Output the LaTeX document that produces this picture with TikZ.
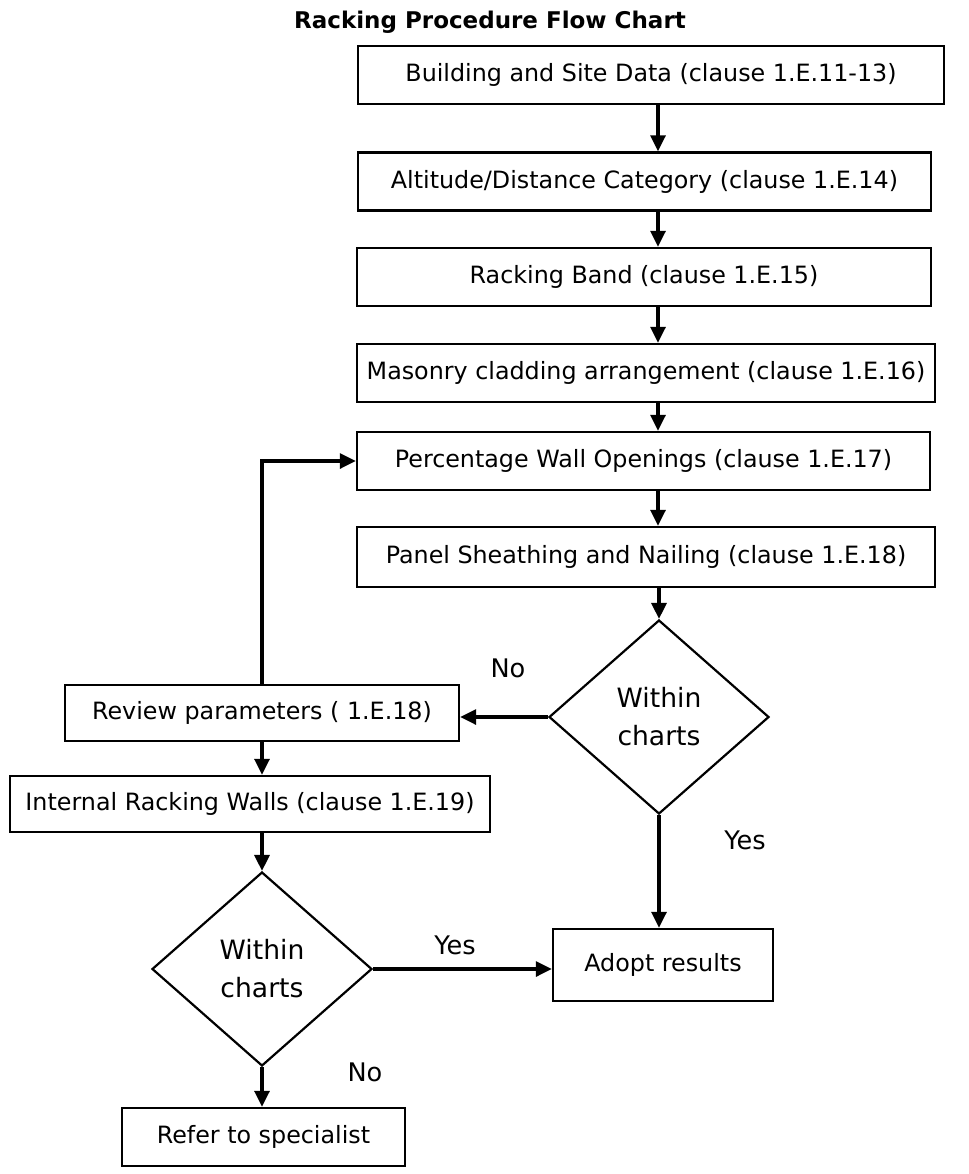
\documentclass[tikz,border=0pt]{standalone}
\usepackage{fontspec}
\setmainfont{DejaVu Sans}
\usetikzlibrary{arrows.meta, positioning, calc, shapes}

\begin{document}
\begin{tikzpicture}[x=0.5pt, y=-0.5pt, >={Triangle[length=8pt, width=7.5pt]},
            box/.style={draw, rectangle, line width=1.2pt, minimum height=29pt, inner sep=0pt, font=\fontsize{11.9}{14}\selectfont},
            choice/.style={draw, diamond, line width=1.1pt, inner sep=0pt, minimum width=110pt, minimum height=97pt, align=center, font=\fontsize{13.3}{19}\selectfont},
            lbl/.style={font=\fontsize{12.8}{15}\selectfont},
            link/.style={->, line width=1.6pt}]

            \useasboundingbox (0,0) rectangle (969,1174);

            \node[font=\bfseries\fontsize{11.5}{14}\selectfont] (title) at (490,22) {Racking Procedure Flow Chart};

            % ===== main column =====
            \node[box, minimum width=293pt] (site) at (651,75) {Building and Site Data (clause 1.E.11-13)};
            \node[box, minimum width=286.5pt] (alt) at (644.5,181.5) {Altitude/Distance Category (clause 1.E.14)};
            \node[box, minimum width=287pt] (band) at (644,277) {Racking Band (clause 1.E.15)};
            \node[box, minimum width=289pt] (mas) at (646,373) {Masonry cladding arrangement (clause 1.E.16)};
            \node[box, minimum width=286.5pt] (open) at (643.5,461) {Percentage Wall Openings (clause 1.E.17)};
            \node[box, minimum width=289pt, minimum height=30pt] (sheath) at (646,557) {Panel Sheathing and Nailing (clause 1.E.18)};
            \coordinate (spine) at (658,0);

            \node[choice] (chk1) at (659,717) {Within\\charts};
            \node[box, minimum width=110pt, minimum height=36pt] (adopt) at (663,965) {Adopt results};

            % ===== left column =====
            \node[box, minimum width=197pt, minimum height=28pt] (review) at (262,713) {Review parameters ( 1.E.18)};
            \node[box, minimum width=240pt, minimum height=28pt] (inner) at (250,804) {Internal Racking Walls (clause 1.E.19)};
            \node[choice] (chk2) at (262,969) {Within\\charts};
            \node[box, minimum width=141.5pt] (spec) at (263.5,1137) {Refer to specialist};

            \node[lbl] (no1) at (508,668) {No};
            \node[lbl] (yes1) at (745,840) {Yes};
            \node[lbl] (yes2) at (455,945) {Yes};
            \node[lbl] (no2) at (365,1072) {No};

            \foreach \a/\b in {site/alt, alt/band, band/mas, mas/open, open/sheath}
                \draw[link] (\a.south -| spine) -- (\b.north -| spine);
            \draw[link] (sheath.south -| chk1.north) -- (chk1.north);

            \draw[link] (chk1.west) -- (chk1.west -| review.east);
            \draw[link] (chk1.south) -- (chk1.south |- adopt.north);
            \draw[link] (review.north) |- (open.west);
            \draw[link] (review.south) -- (review.south |- inner.north);
            \draw[link] (inner.south -| chk2.north) -- (chk2.north);
            \draw[link] (chk2.east) -- (chk2.east -| adopt.west);
            \draw[link] (chk2.south) -- (chk2.south |- spec.north);
        \end{tikzpicture}
\end{document}
